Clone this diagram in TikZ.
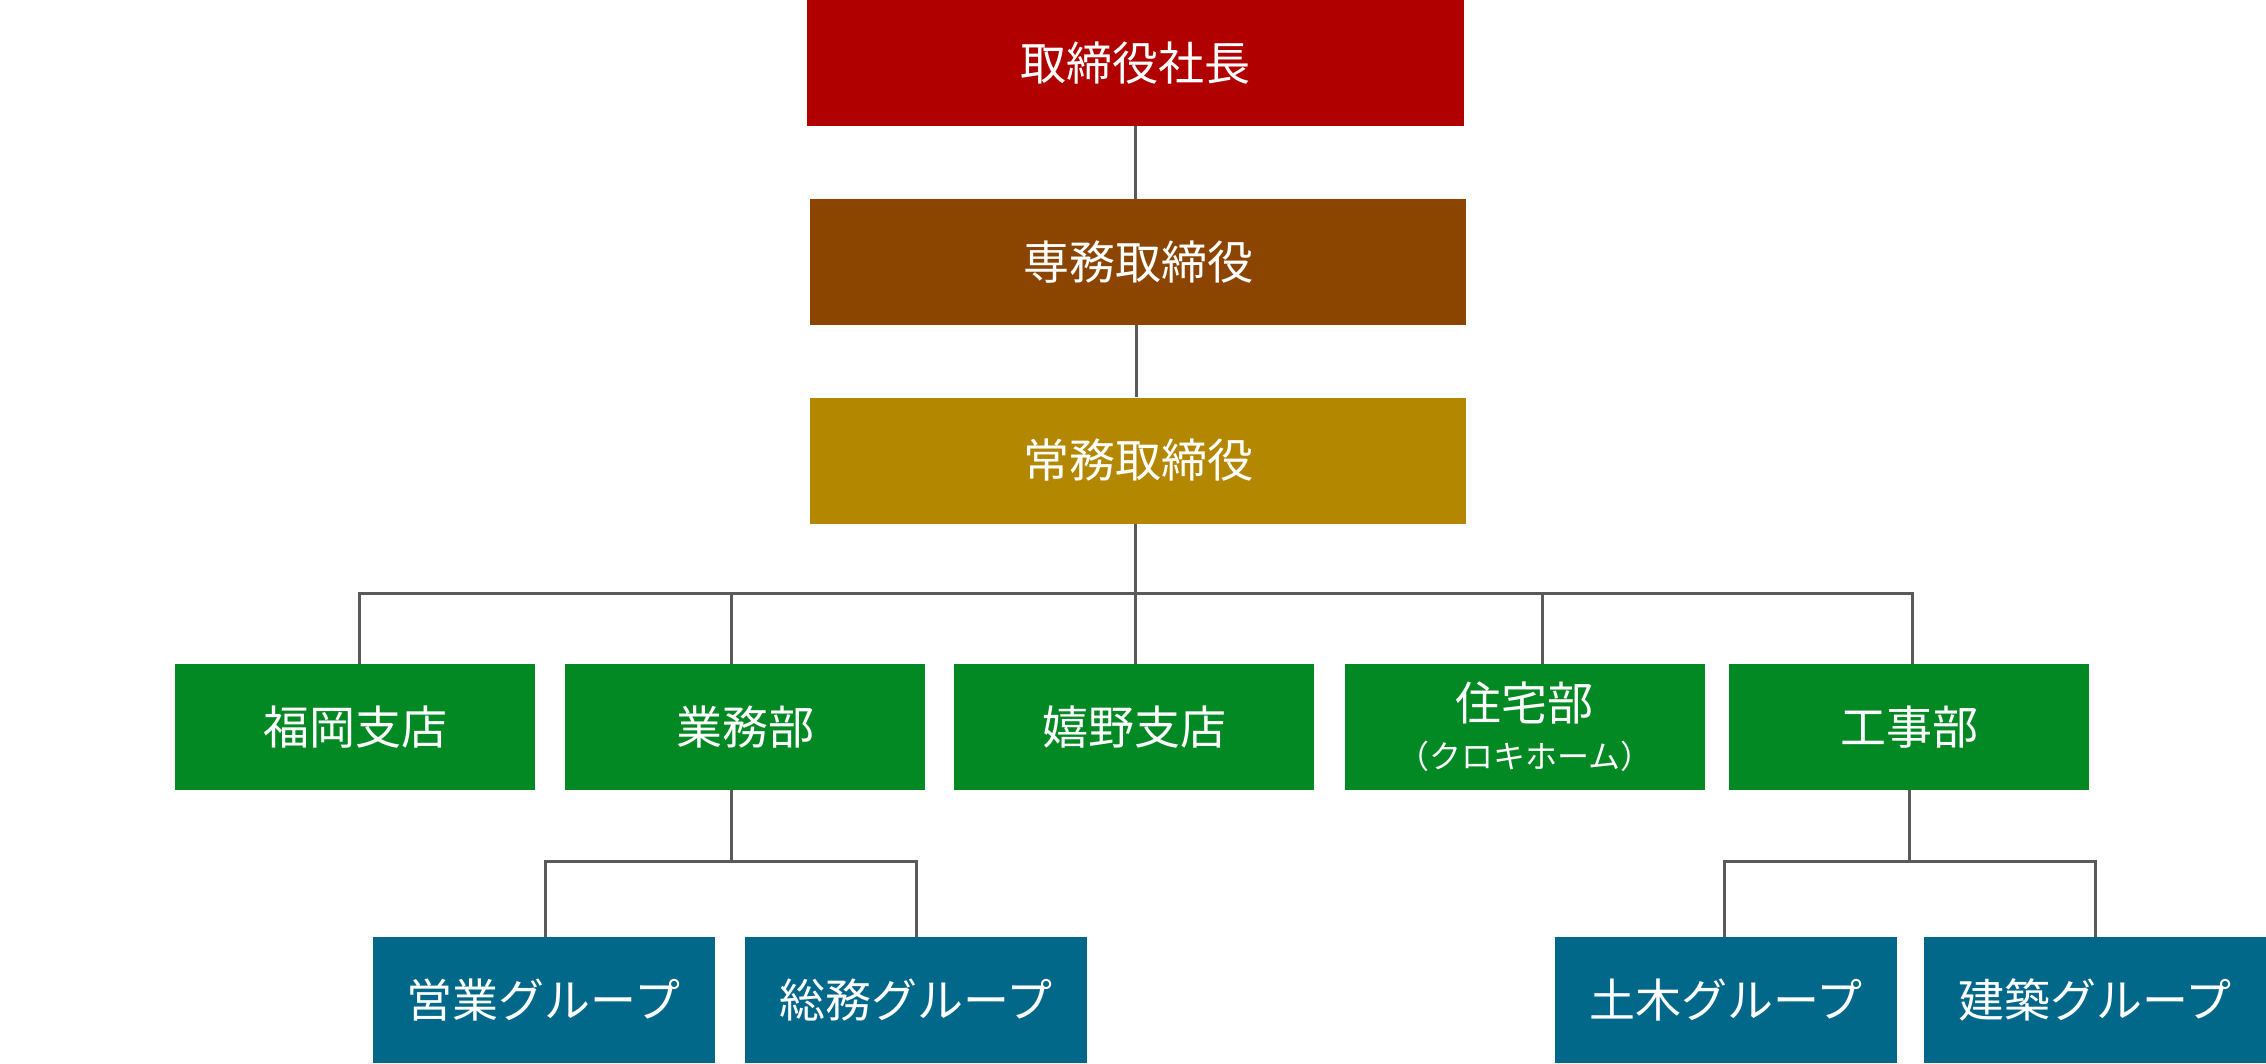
\documentclass[tikz,border=0pt]{standalone}
\usepackage{fontspec}
\newfontfamily\jp{Noto Sans CJK JP}
\definecolor{cRed}{RGB}{176,0,0}
\definecolor{cBrown}{RGB}{139,69,0}
\definecolor{cGold}{RGB}{179,135,0}
\definecolor{cGreen}{RGB}{3,137,35}
\definecolor{cBlue}{RGB}{2,104,138}
\definecolor{lineGray}{RGB}{90,90,90}
\begin{document}
\begin{tikzpicture}[x=1pt,y=-1pt,
  box/.style={rectangle, inner sep=0pt, minimum height=126pt, text=white,
    font=\jp\fontsize{46}{54}\selectfont, align=center},
  exec/.style={box, minimum width=656pt},
  dept/.style={box, fill=cGreen, minimum width=360pt},
  grp/.style={box, fill=cBlue, minimum width=342pt},
  conn/.style={draw=lineGray, line width=3pt}]
\useasboundingbox (0,0) rectangle (2266,1064);

\node[exec, fill=cRed, minimum width=657pt] (ceo) at (1135.5,63) {取締役社長};
\node[exec, fill=cBrown] (sen) at (1138,262) {専務取締役};
\node[exec, fill=cGold] (man) at (1138,460.5) {常務取締役};

\node[dept] (b1) at (355,727) {福岡支店};
\node[dept] (b2) at (745,727) {業務部};
\node[dept] (b3) at (1134,727) {嬉野支店};
\node[dept] (b4) at (1524.5,727) {住宅部\\[-6pt]{\fontsize{32}{40}\selectfont （クロキホーム）}};
\node[dept] (b5) at (1909,727) {工事部};

\node[grp] (g1) at (543.5,1000) {営業グループ};
\node[grp] (g2) at (916,1000) {総務グループ};
\node[grp] (g3) at (1726,1000) {土木グループ};
\node[grp] (g4) at (2095,1000) {建築グループ};

\coordinate (bus) at (1135,593);
\coordinate (busL) at (0,861);

\draw[conn] (ceo.south) -- (ceo.south |- sen.north);
\draw[conn] ([xshift=-2pt]sen.south) -- ([xshift=-2pt]sen.south |- man.north);
\draw[conn] ([xshift=-3pt]man.south) -- ([xshift=-3pt]man.south |- bus);

\draw[conn] ([xshift=4pt]b1.north) -- ([xshift=4pt]b1.north |- bus)
  -- ([xshift=3pt]b5.north |- bus) -- ([xshift=3pt]b5.north);
\draw[conn] ([xshift=-14pt]b2.north) -- ([xshift=-14pt]b2.north |- bus);
\draw[conn] ([xshift=1pt]b3.north) -- ([xshift=1pt]b3.north |- bus);
\draw[conn] ([xshift=17.5pt]b4.north) -- ([xshift=17.5pt]b4.north |- bus);

\draw[conn] ([xshift=-14pt]b2.south) -- ([xshift=-14pt]b2.south |- busL);
\draw[conn] ([xshift=1.5pt]g1.north) -- ([xshift=1.5pt]g1.north |- busL)
  -- (g2.north |- busL) -- (g2.north);
\draw[conn] (b5.south) -- (b5.south |- busL);
\draw[conn] ([xshift=-2pt]g3.north) -- ([xshift=-2pt]g3.north |- busL)
  -- (g4.north |- busL) -- (g4.north);
\end{tikzpicture}
\end{document}
